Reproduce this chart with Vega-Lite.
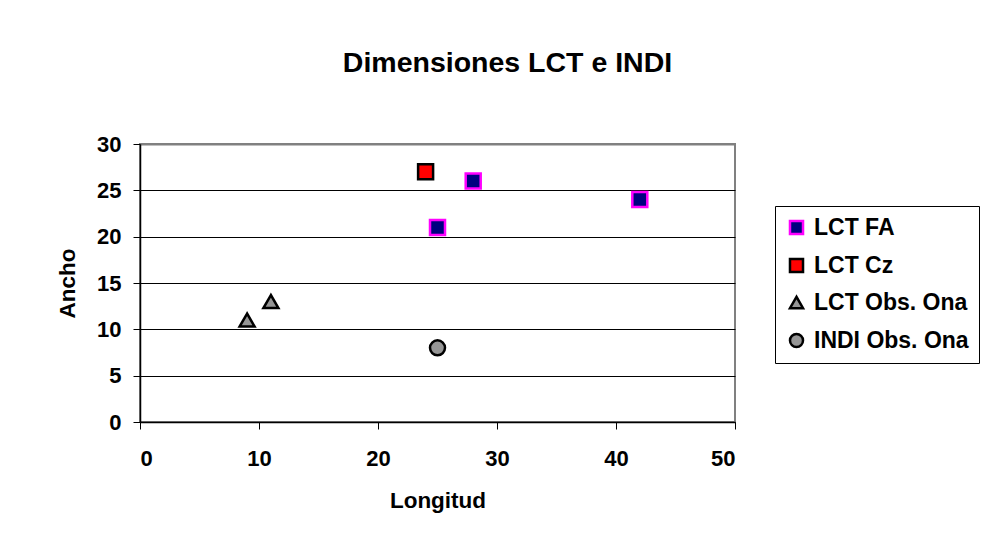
{
  "$schema": "https://vega.github.io/schema/vega-lite/v6.json",
  "autosize": "none",
  "width": 595,
  "height": 278,
  "padding": {"left": 140, "top": 144, "right": 257, "bottom": 135},
  "background": "white",
  "title": {
    "text": "Dimensiones LCT e INDI",
    "font": "Liberation Sans",
    "fontSize": 28.5,
    "fontWeight": "bold",
    "color": "black",
    "anchor": "middle",
    "baseline": "alphabetic",
    "dx": 70,
    "offset": 33
  },
  "config": {
    "view": {"stroke": "#808080", "strokeWidth": 2, "fill": "white"},
    "font": "Liberation Sans"
  },
  "data": {
    "values": [
      {"Longitud": 25, "Ancho": 21, "serie": "LCT FA"},
      {"Longitud": 28, "Ancho": 26, "serie": "LCT FA"},
      {"Longitud": 42, "Ancho": 24, "serie": "LCT FA"},
      {"Longitud": 24, "Ancho": 27, "serie": "LCT Cz"},
      {"Longitud": 9, "Ancho": 11, "serie": "LCT Obs. Ona"},
      {"Longitud": 11, "Ancho": 13, "serie": "LCT Obs. Ona"},
      {"Longitud": 25, "Ancho": 8, "serie": "INDI Obs. Ona"}
    ]
  },
  "mark": {"type": "point", "filled": true, "size": 225, "strokeWidth": 2.5, "opacity": 1, "fillOpacity": 1, "strokeOpacity": 1},
  "encoding": {
    "x": {
      "field": "Longitud",
      "type": "quantitative",
      "scale": {"domain": [0, 50], "nice": false, "zero": true},
      "axis": {
        "values": [0, 10, 20, 30, 40, 50],
        "grid": false,
        "domainColor": "black",
        "domainWidth": 1.5,
        "tickColor": "black",
        "tickSize": 7,
        "labelFontSize": 22,
        "labelFontWeight": "bold",
        "labelColor": "black",
        "labelPadding": 19,
        "title": "Longitud",
        "titleFontSize": 22.5,
        "titleFontWeight": "bold",
        "titleColor": "black",
        "titlePadding": 20
      }
    },
    "y": {
      "field": "Ancho",
      "type": "quantitative",
      "scale": {"domain": [0, 30], "nice": false},
      "axis": {
        "values": [0, 5, 10, 15, 20, 25, 30],
        "grid": true,
        "gridColor": {"condition": {"test": "datum.value == 30", "value": "#808080"}, "value": "black"},
        "gridWidth": {"condition": {"test": "datum.value == 30", "value": 2}, "value": 1},
        "domainColor": "black",
        "domainWidth": 1.5,
        "tickColor": "black",
        "tickSize": 7,
        "labelFontSize": 22,
        "labelFontWeight": "bold",
        "labelColor": "black",
        "labelPadding": 12,
        "title": "Ancho",
        "titleFontSize": 22.5,
        "titleFontWeight": "bold",
        "titleColor": "black",
        "titlePadding": 17
      }
    },
    "fill": {
      "field": "serie",
      "type": "nominal",
      "scale": {
        "domain": ["LCT FA", "LCT Cz", "LCT Obs. Ona", "INDI Obs. Ona"],
        "range": ["#000080", "#FF0000", "#969696", "#969696"]
      },
      "legend": {
        "title": null,
        "orient": "none",
        "legendX": 635,
        "legendY": 62,
        "strokeColor": "black",
        "fillColor": "white",
        "padding": 10,
        "labelFontSize": 23,
        "labelFontWeight": "bold",
        "labelColor": "black",
        "symbolSize": 170,
        "symbolStrokeWidth": 2.5,
        "rowPadding": 13,
        "labelOffset": 6,
        "labelLimit": 300
      }
    },
    "stroke": {
      "field": "serie",
      "type": "nominal",
      "scale": {
        "domain": ["LCT FA", "LCT Cz", "LCT Obs. Ona", "INDI Obs. Ona"],
        "range": ["#FF00FF", "black", "black", "black"]
      }
    },
    "shape": {
      "field": "serie",
      "type": "nominal",
      "scale": {
        "domain": ["LCT FA", "LCT Cz", "LCT Obs. Ona", "INDI Obs. Ona"],
        "range": ["square", "square", "triangle-up", "circle"]
      }
    }
  }
}
